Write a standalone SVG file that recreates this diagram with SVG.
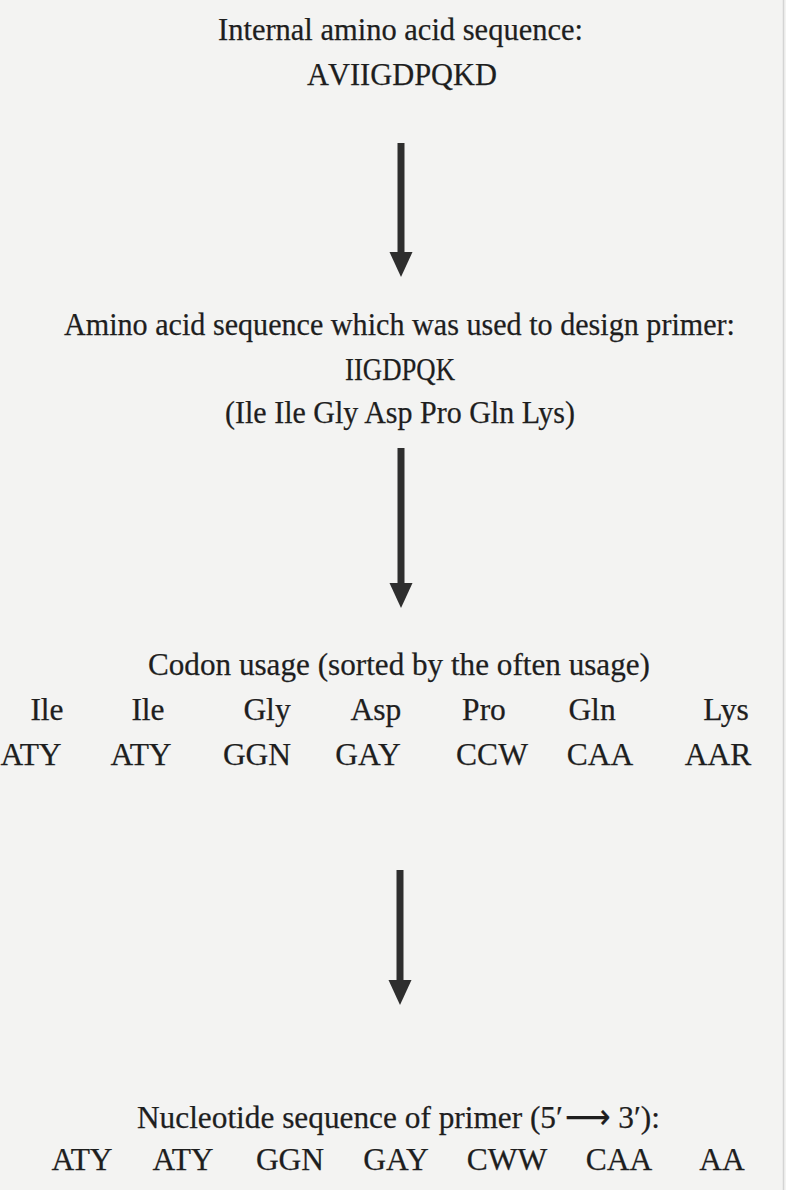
<svg xmlns="http://www.w3.org/2000/svg" width="786" height="1190" viewBox="0 0 786 1190">
  <style>
    .t { font-family: "Liberation Serif", "Times New Roman", serif; font-size: 31.5px; fill: #1e1e1e; stroke: #1e1e1e; stroke-width: 0.25px; text-anchor: middle; }
    .shaft { stroke: #2e2e2e; stroke-width: 7; fill: none; }
    .head { fill: #2e2e2e; }
  </style>
  <rect width="786" height="1190" fill="#f3f3f2"/>
  <!-- faint border at the right edge -->
  <line x1="783.5" y1="0" x2="783.5" y2="1190" stroke="#d4d4d4" stroke-width="1.5"/>

  <g id="node-internal">
    <text class="t" x="400.5" y="40" textLength="365" lengthAdjust="spacingAndGlyphs">Internal amino acid sequence:</text>
    <text class="t" x="402" y="85" textLength="190" lengthAdjust="spacingAndGlyphs">A<tspan dx="3">VIIGDPQKD</tspan></text>
  </g>

  <g id="node-primer-aa">
    <text class="t" x="399.5" y="335" textLength="671" lengthAdjust="spacingAndGlyphs">Amino acid sequence which was used to design primer:</text>
    <text class="t" x="400" y="380" textLength="110" lengthAdjust="spacingAndGlyphs">IIGDPQK</text>
    <text class="t" x="400" y="423" textLength="350" lengthAdjust="spacingAndGlyphs">(Ile Ile Gly Asp Pro Gln Lys)</text>
  </g>

  <g id="node-codon">
    <text class="t" x="399" y="675" textLength="502" lengthAdjust="spacingAndGlyphs">Codon usage (sorted by the often usage)</text>
    <text class="t" x="47" y="720">Ile</text>
    <text class="t" x="148" y="720">Ile</text>
    <text class="t" x="267" y="720">Gly</text>
    <text class="t" x="376" y="720">Asp</text>
    <text class="t" x="484" y="720">Pro</text>
    <text class="t" x="592" y="720">Gln</text>
    <text class="t" x="726" y="720">Lys</text>
    <text class="t" x="31" y="765">ATY</text>
    <text class="t" x="141" y="765">ATY</text>
    <text class="t" x="257" y="765">GGN</text>
    <text class="t" x="368" y="765">GAY</text>
    <text class="t" x="492" y="765">CCW</text>
    <text class="t" x="600" y="765">CAA</text>
    <text class="t" x="718" y="765">AAR</text>
  </g>

  <g id="node-nucleotide">
    <text class="t" x="398.5" y="1128" textLength="523" lengthAdjust="spacingAndGlyphs">Nucleotide sequence of primer (5′<tspan dx="2">⟶</tspan> 3′):</text>
    <text class="t" x="82" y="1170">ATY</text>
    <text class="t" x="183" y="1170">ATY</text>
    <text class="t" x="290" y="1170">GGN</text>
    <text class="t" x="396" y="1170">GAY</text>
    <text class="t" x="507" y="1170">CWW</text>
    <text class="t" x="619" y="1170">CAA</text>
    <text class="t" x="722" y="1170">AA</text>
  </g>

  <g id="connectors">
    <line class="shaft" x1="401" y1="143" x2="401" y2="256"/>
    <polygon class="head" points="389.5,252 412.5,252 401,277"/>
    <line class="shaft" x1="401" y1="448" x2="401" y2="587"/>
    <polygon class="head" points="389.5,583 412.5,583 401,608"/>
    <line class="shaft" x1="400" y1="870" x2="400" y2="984"/>
    <polygon class="head" points="388.5,980 411.5,980 400,1005"/>
  </g>
</svg>
